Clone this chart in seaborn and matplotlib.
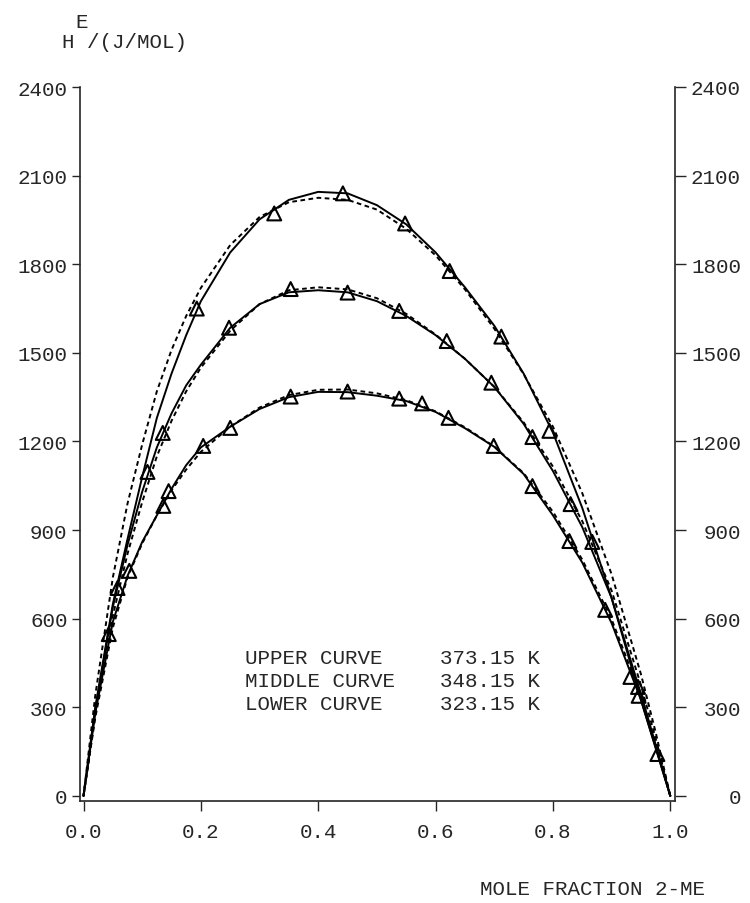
import numpy as np
import pandas as pd
import matplotlib
matplotlib.use('Agg')
import matplotlib.pyplot as plt
import seaborn as sns

# %%
# measured points (triangles)
x_upper_pts = [0.193, 0.325, 0.442, 0.548, 0.624, 0.712, 0.794, 0.867, 0.932, 0.978]
h_upper_pts = [1650, 1972, 2040, 1938, 1777, 1555, 1236, 860, 403, 142]

x_middle_pts = [0.058, 0.109, 0.135, 0.248, 0.353, 0.450, 0.538, 0.619, 0.695, 0.765, 0.830, 0.945]
h_middle_pts = [704, 1097, 1229, 1585, 1716, 1704, 1642, 1540, 1399, 1215, 988, 369]

x_lower_pts = [0.043, 0.078, 0.136, 0.145, 0.204, 0.250, 0.353, 0.450, 0.538, 0.577, 0.622,
               0.699, 0.765, 0.828, 0.889, 0.946]
h_lower_pts = [548, 762, 982, 1032, 1185, 1246, 1352, 1369, 1345, 1329, 1280,
               1185, 1049, 863, 630, 339]

# fitted curves
x_fit = [0, 0.02, 0.05, 0.075, 0.1, 0.125, 0.15, 0.175, 0.2, 0.25, 0.3, 0.35, 0.4, 0.45,
         0.5, 0.55, 0.6, 0.65, 0.7, 0.75, 0.8, 0.85, 0.9, 0.95, 0.975, 1.0]

h_upper_solid = [0, 300, 650, 870, 1080, 1280, 1430, 1560, 1675, 1840, 1952, 2018, 2045, 2040,
                 2000, 1935, 1840, 1722, 1592, 1430, 1230, 975, 670, 325, 162, 0]
h_middle_solid = [0, 290, 640, 850, 1030, 1180, 1295, 1390, 1460, 1585, 1665, 1705, 1712, 1705,
                  1675, 1625, 1560, 1480, 1385, 1260, 1100, 910, 670, 345, 175, 0]
h_lower_solid = [0, 280, 590, 745, 860, 950, 1040, 1120, 1180, 1250, 1310, 1350, 1368, 1367,
                 1355, 1337, 1300, 1245, 1182, 1090, 950, 790, 585, 325, 165, 0]

h_upper_dash = [0, 340, 740, 990, 1190, 1370, 1510, 1625, 1720, 1865, 1960, 2010, 2025, 2018,
                1985, 1920, 1830, 1715, 1582, 1428, 1250, 1025, 750, 412, 216, 0]
h_middle_dash = [0, 275, 610, 820, 995, 1150, 1270, 1370, 1450, 1575, 1665, 1712, 1722, 1715,
                 1685, 1632, 1562, 1480, 1385, 1265, 1115, 930, 695, 375, 195, 0]
h_lower_dash = [0, 265, 570, 740, 855, 950, 1035, 1105, 1165, 1250, 1315, 1357, 1375, 1376,
                1363, 1340, 1302, 1248, 1183, 1093, 962, 800, 598, 340, 178, 0]

legend_names = ['UPPER CURVE', 'MIDDLE CURVE', 'LOWER CURVE']
legend_temps = ['373.15 K', '348.15 K', '323.15 K']

x_ticks = [0.0, 0.2, 0.4, 0.6, 0.8, 1.0]
y_ticks = [0, 300, 600, 900, 1200, 1500, 1800, 2100, 2400]

# %%
sns.set_style('ticks')
plt.rcParams['font.family'] = ['Liberation Mono', 'DejaVu Sans Mono']
plt.rcParams['font.size'] = 15

fig = plt.figure(figsize=(7.5, 9.04), dpi=100)
ax = fig.add_axes([80 / 750, 1 - 802 / 904, 595 / 750, 714 / 904])

fits = [h_upper_solid, h_middle_solid, h_lower_solid]
dashes = [h_upper_dash, h_middle_dash, h_lower_dash]
for hs, hd in zip(fits, dashes):
    sns.lineplot(x=x_fit, y=hd, color='black', lw=1.4, linestyle=(0, (2.4, 1.8)), ax=ax)
    sns.lineplot(x=x_fit, y=hs, color='black', lw=1.4, ax=ax)

pts = pd.concat([
    pd.DataFrame({'x': x_upper_pts, 'h': h_upper_pts}),
    pd.DataFrame({'x': x_middle_pts, 'h': h_middle_pts}),
    pd.DataFrame({'x': x_lower_pts, 'h': h_lower_pts}),
])
sns.scatterplot(data=pts, x='x', y='h', marker='^', s=100, facecolors='none',
                edgecolors='black', linewidth=1.5, ax=ax, zorder=5)

ax.set_xlim(-0.006, 1.008)
ax.set_ylim(-17, 2400)
ax.set_xticks(x_ticks)
ax.set_xticklabels([f'{v:.1f}' for v in x_ticks])
ax.set_yticks(y_ticks)
ax.set_xlabel('')
ax.set_ylabel('')

for s in ['top', 'right']:
    ax.spines[s].set_visible(False)
for s in ['left', 'bottom']:
    ax.spines[s].set_linewidth(1.2)
ax.tick_params(axis='x', direction='out', length=7, width=1, pad=8)
ax.tick_params(axis='y', direction='out', length=6, width=1, pad=3)

# right hand axis, labels right aligned
ax2 = ax.twinx()
ax2.set_ylim(ax.get_ylim())
ax2.set_yticks(y_ticks)
for s in ['top', 'left', 'bottom']:
    ax2.spines[s].set_visible(False)
ax2.spines['right'].set_linewidth(1.2)
ax2.tick_params(axis='y', direction='out', length=8, width=1, pad=39.5)
for t in ax2.get_yticklabels():
    t.set_horizontalalignment('right')

# texts
fig.text(62 / 750, 1 - 43 / 904, 'H /(J/MOL)', ha='left', va='center')
fig.text(82 / 750, 1 - 22 / 904, 'E', ha='center', va='center')

for i, (name, temp) in enumerate(zip(legend_names, legend_temps)):
    yy = 1 - (659 + 23 * i) / 904
    fig.text(245 / 750, yy, name, ha='left', va='center')
    fig.text(440 / 750, yy, temp, ha='left', va='center')

fig.text(593 / 750, 1 - 890 / 904, 'MOLE FRACTION 2-ME', ha='center', va='center')

plt.savefig('out.png', dpi=100, facecolor='white')
